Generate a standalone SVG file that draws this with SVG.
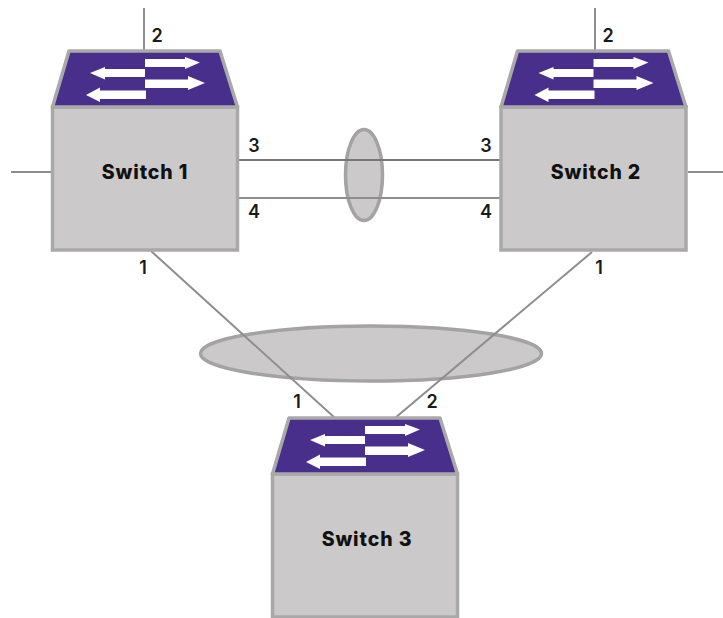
<svg xmlns="http://www.w3.org/2000/svg" xmlns:xlink="http://www.w3.org/1999/xlink" width="723" height="618" viewBox="0 0 723 618">
<style>
text{font-family:"Inter","Liberation Sans",sans-serif;text-anchor:middle;fill:#1a1a1a}
.name{font-size:19.5px;font-weight:800;fill:#111;letter-spacing:.9px}
.port{font-size:18px;font-weight:600}
.link{stroke:#8e8e8e;stroke-width:2;fill:none}
.dark{stroke:#777}
.lag{fill:#cbc9ca;stroke:#a3a3a3;stroke-width:3.5}
.body{fill:#cbc9ca;stroke:#a9a9a9;stroke-width:3.5}
.top{fill:#482f8b;stroke:#a9a9a9;stroke-width:3.5;stroke-linejoin:round}
.arrow{fill:#fff}
</style>
<defs>
<g id="face">
<rect class="body" x="52.5" y="107" width="185" height="143"/>
<path class="top" d="M69 51H220L237.5 107H52.5Z"/>
<path class="arrow" d="M145 59H185V57L200 62.5L185 69V67H145Z"/>
<path class="arrow" d="M145 69V77H105V79.5L90 73L105 67V69Z"/>
<path class="arrow" d="M145 79.5H188V76L205 83L188 90V88H145Z"/>
<path class="arrow" d="M146 90.5V99H100V102L86 95L100 87.5V90.5Z"/>
</g>
</defs>
<g id="lags">
<ellipse class="lag" cx="364" cy="175" rx="18.5" ry="45.5"/>
<ellipse class="lag" cx="371" cy="353.5" rx="170.5" ry="27.5"/>
</g>
<g id="connectors">
<path class="link" d="M144 8V50"/>
<path class="link" d="M11 172H52"/>
<path class="link dark" d="M238 160H500"/>
<path class="link" d="M238 198H500"/>
<path class="link" d="M595 8V50"/>
<path class="link" d="M688 172H723"/>
<path class="link" d="M151 251L335 418"/>
<path class="link" d="M592 252L395 418"/>
</g>
<g id="switch1">
<use xlink:href="#face" href="#face"/>
<text class="name" x="145" y="179">Switch 1</text>
<text class="port" x="157" y="42">2</text>
<text class="port" x="254" y="152">3</text>
<text class="port" x="254" y="218">4</text>
<text class="port" x="143" y="274">1</text>
</g>
<g id="switch2">
<use xlink:href="#face" href="#face" x="448.5"/>
<text class="name" x="596" y="179">Switch 2</text>
<text class="port" x="608" y="42">2</text>
<text class="port" x="486" y="152">3</text>
<text class="port" x="486" y="218">4</text>
<text class="port" x="599" y="274">1</text>
</g>
<g id="switch3">
<use xlink:href="#face" href="#face" x="220" y="367"/>
<text class="name" x="367" y="546">Switch 3</text>
<text class="port" x="297" y="408">1</text>
<text class="port" x="432" y="408">2</text>
</g>
</svg>
